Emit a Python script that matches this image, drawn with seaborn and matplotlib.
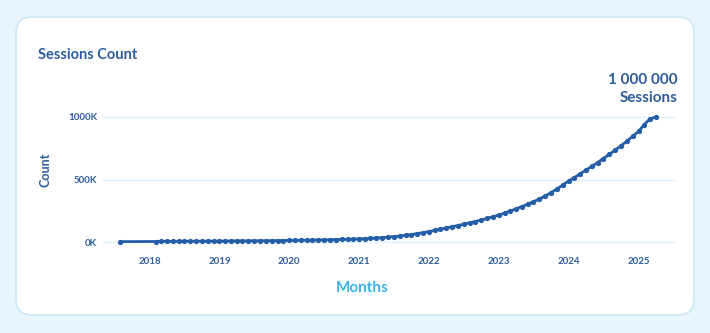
import matplotlib
matplotlib.use("Agg")
import matplotlib.pyplot as plt
import matplotlib.dates as mdates
from matplotlib.patches import FancyBboxPatch
from matplotlib.ticker import FuncFormatter, FixedLocator
import numpy as np
import pandas as pd
import seaborn as sns

# ---- data -------------------------------------------------------------
first_month = ["2017-08-01"]
monthly_range = ("2018-02-01", "2025-04-01")

# monthly session counts, in thousands
sessions_k = [
    3,
    4.0, 4.3, 4.6, 4.9, 5.2, 5.5, 5.8, 6.1, 6.4, 6.7, 7.0,
    7.3, 7.6, 8.0, 8.3, 8.7, 9.1, 9.5, 9.9, 10.3, 10.8, 11.3, 11.8,
    12.4, 13.0, 13.7, 14.4, 15.2, 16.0, 17.0, 18.0, 19.2, 20.4, 21.7, 23.0,
    24.5, 26.5, 29, 32, 35, 39, 43, 48, 54, 60, 67, 75,
    84, 93, 102, 112, 122, 132, 142, 153, 164, 176, 189, 202,
    216, 231, 248, 265, 283, 302, 322, 344, 368, 395, 424, 455,
    488, 516, 545, 575, 605, 636, 668, 701, 735, 770, 806, 845,
    885, 940, 985, 1000,
]
year_ticks = [2018, 2019, 2020, 2021, 2022, 2023, 2024, 2025]
y_ticks_k = [0, 500, 1000]

months = pd.to_datetime(first_month).append(
    pd.date_range(*monthly_range, freq="MS"))
df = pd.DataFrame({"Months": months,
                   "Count": np.array(sessions_k) * 1000})

# ---- style ------------------------------------------------------------
sns.set_theme(style="white")
plt.rcParams["font.family"] = ["Lato", "DejaVu Sans"]

BG = "#E8F5FC"
CARD_EDGE = "#CBE7F6"
DARK = "#2C5C9C"
LINE = "#245EA6"
LIGHT = "#3AB4E8"
GRID = "#E0F0FA"

W, H = 710, 333
fig = plt.figure(figsize=(W / 100, H / 100), dpi=100, facecolor=BG)

# rounded white card
card = FancyBboxPatch((16, 333 - 315), 678, 298,
                      boxstyle="round,pad=0,rounding_size=16",
                      transform=None, facecolor="white",
                      edgecolor=CARD_EDGE, linewidth=1.2, zorder=0)
fig.add_artist(card)

# axes placed in pixel terms: x 103..676, y 105..250 (from top)
ax = fig.add_axes([103 / W, 1 - 250 / H, (676 - 103) / W, (250 - 105) / H])
ax.set_facecolor("none")

sns.lineplot(data=df, x="Months", y="Count", ax=ax, color=LINE,
             linewidth=2.0, marker="o", markersize=3.8,
             markeredgewidth=0, zorder=3)

# x range in date terms
ax.set_xlim(pd.Timestamp("2017-05-02"), pd.Timestamp("2025-07-16"))
ax.set_ylim(-64000, 1096000)

ax.xaxis.set_major_locator(FixedLocator(
    [mdates.date2num(pd.Timestamp(f"{y}-01-01")) for y in year_ticks]))
ax.xaxis.set_major_formatter(FuncFormatter(
    lambda v, p: str(mdates.num2date(v).year)))
ax.yaxis.set_major_locator(FixedLocator([v * 1000 for v in y_ticks_k]))
ax.yaxis.set_major_formatter(FuncFormatter(lambda v, p: f"{v / 1000:.0f}K"))

ax.grid(axis="y", color=GRID, linewidth=1.0, zorder=0)
ax.grid(axis="x", visible=False)
for s in ax.spines.values():
    s.set_visible(False)
ax.tick_params(axis="both", length=0, labelsize=7, labelcolor=DARK)
ax.tick_params(axis="x", pad=5)
ax.tick_params(axis="y", pad=4)
for lbl in ax.get_xticklabels() + ax.get_yticklabels():
    lbl.set_fontweight("bold")

ax.set_xlabel("")
ax.set_ylabel("")

# titles and labels
fig.text(38 / W, 1 - 55 / H, "Sessions Count", ha="left", va="center",
         fontsize=10.5, fontweight="bold", color=DARK)
fig.text(46 / W, 1 - 170 / H, "Count", ha="center", va="center",
         rotation=90, fontsize=9, fontweight="bold", color=DARK)
fig.text(362 / W, 1 - 288 / H, "Months", ha="center", va="center",
         fontsize=11, fontweight="bold", color=LIGHT)

total = int(round(df["Count"].iloc[-1]))
total_str = f"{total:,}".replace(",", " ")
fig.text(678 / W, 1 - 89 / H, f"{total_str}\nSessions", ha="right",
         va="center", fontsize=11, fontweight="bold", color=DARK,
         linespacing=1.3)

fig.savefig("out.png", dpi=100, facecolor=BG)
